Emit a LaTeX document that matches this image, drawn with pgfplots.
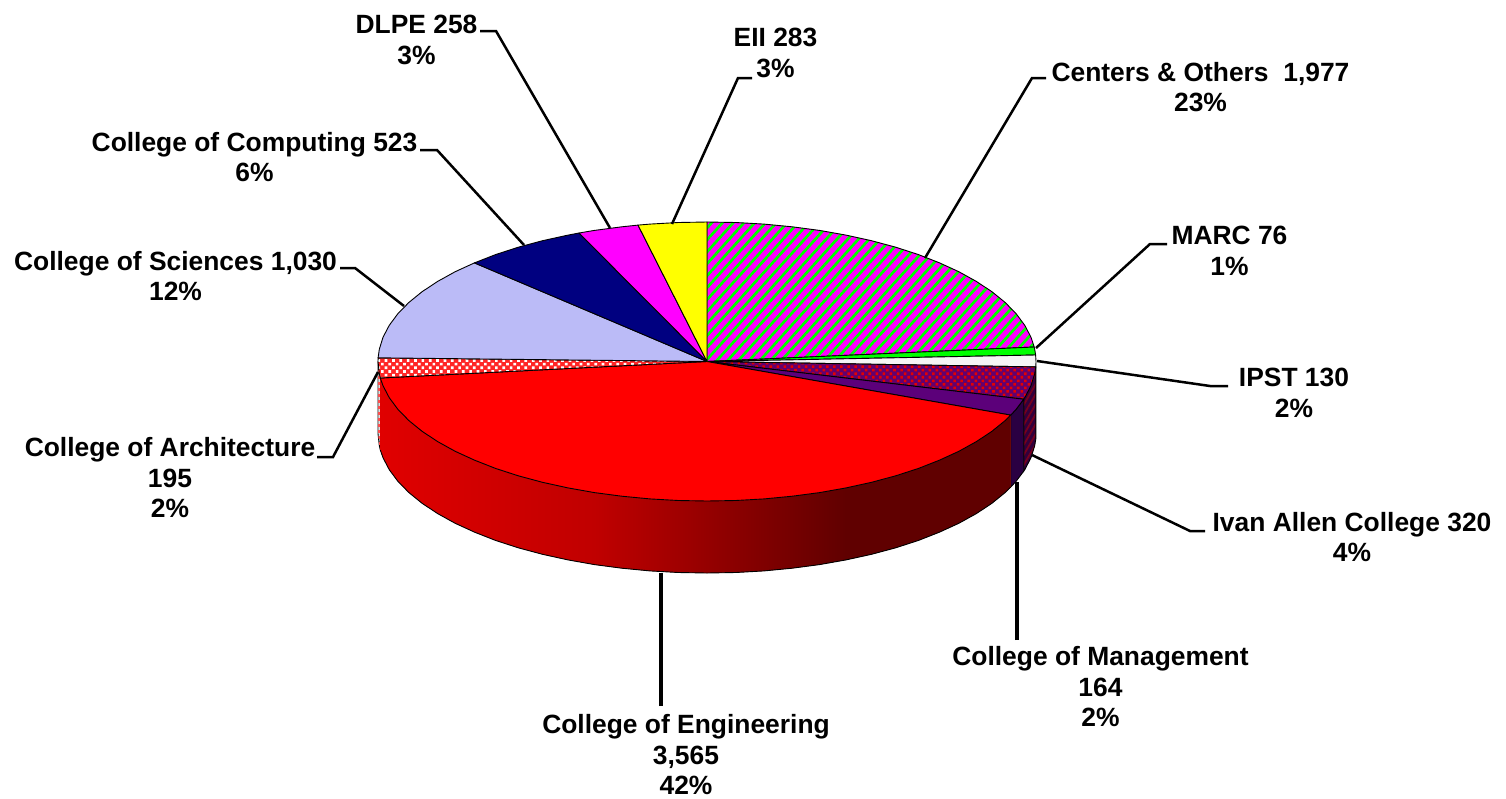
\documentclass[border=0pt]{standalone}
\usepackage{pgfplots}
\pgfplotsset{compat=1.18}
\usepackage{fontspec}
\setmainfont{Liberation Sans}
\usetikzlibrary{patterns.meta}
\definecolor{cMag}{RGB}{255,0,255}
\definecolor{cGrn}{RGB}{0,255,0}
\definecolor{cYel}{RGB}{255,255,0}
\definecolor{cRed}{RGB}{255,0,0}
\definecolor{cSci}{RGB}{187,187,247}
\definecolor{cNavy}{RGB}{0,0,128}
\definecolor{cMgmt}{RGB}{92,0,122}
\definecolor{cMgmtS}{RGB}{42,0,66}
\definecolor{cIvan}{RGB}{100,0,110}
\definecolor{cIvanS}{RGB}{50,0,60}
\definecolor{cIvanH}{RGB}{120,0,30}
\definecolor{sA}{RGB}{224,0,0}
\definecolor{sB}{RGB}{192,0,0}
\definecolor{sC}{RGB}{96,0,0}
\definecolor{sM}{RGB}{150,0,0}
\tikzset{lab/.style={font=\fontsize{26.4}{30.5}\selectfont\bfseries,align=center,inner sep=0pt,anchor=center,text=black},
ed/.style={draw=black,line width=0.9pt,line join=round},
ld/.style={draw=black,line width=2.5pt,line join=miter},
ldv/.style={draw=black,line width=3.2pt}}
\begin{document}
\begin{tikzpicture}
\path[use as bounding box] (0,0) rectangle (1506pt,798pt);
\begin{axis}[scale only axis,width=1506pt,height=798pt,xmin=0,xmax=1506,ymin=0,ymax=798,y dir=reverse,hide axis,clip=false,at={(0pt,0pt)},anchor=south west]
% side walls
\addplot[fill=cIvanS,draw=none] coordinates {(1035.8,366.9)(1034.7,373.7)(1031,385.7)(1024.8,397.6)(1023.7,399.2)(1023.7,471.2)(1024.8,469.6)(1031,457.7)(1034.7,445.7)(1035.8,438.9)} -- cycle;
\addplot[pattern={Lines[angle=60,distance=5pt,line width=1.8pt]},pattern color=cIvanH,draw=none] coordinates {(1035.8,366.9)(1034.7,373.7)(1031,385.7)(1024.8,397.6)(1023.7,399.2)(1023.7,471.2)(1024.8,469.6)(1031,457.7)(1034.7,445.7)(1035.8,438.9)} -- cycle;
\addplot[draw=black,line width=0.9pt] coordinates {(1035.8,366.9)(1035.8,438.9)(1034.7,445.7)(1031,457.7)(1024.8,469.6)(1023.7,471.2)(1023.7,399.2)};
\addplot[fill=cMgmtS,ed] coordinates {(1023.7,399.2)(1016.2,409.2)(1010.7,415.1)(1010.7,487.1)(1016.2,481.2)(1023.7,471.2)} -- cycle;
% College of Architecture side
\addplot[fill=white,ed] coordinates {(380.3,378)(379.3,373.7)(378,361.5)(378,433.5)(379.3,445.7)(380.3,450)} -- cycle;
\addplot[pattern={Lines[angle=0,distance=6pt,line width=3pt]},pattern color=cRed!70,draw=none] coordinates {(380.3,378)(379.3,373.7)(378,361.5)(378,433.5)(379.3,445.7)(380.3,450)} -- cycle;
% College of Engineering side
\addplot[fill=sM,draw=none] coordinates {(1010.7,415.1)(1005.2,420.5)(991.9,431.3)(976.5,441.5)(959,451.2)(939.6,460.1)(918.5,468.4)(895.7,475.8)(871.5,482.3)(846,487.9)(819.5,492.6)(792.2,496.2)(764.1,498.9)(735.7,500.5)(707,501)(678.3,500.5)(649.9,498.9)(621.8,496.2)(594.5,492.6)(568,487.9)(542.5,482.3)(518.3,475.8)(495.5,468.4)(474.4,460.1)(455,451.2)(437.5,441.5)(422.1,431.3)(408.8,420.5)(397.8,409.2)(389.2,397.6)(383,385.7)(380.3,378)(380.3,450)(383,457.7)(389.2,469.6)(397.8,481.2)(408.8,492.5)(422.1,503.3)(437.5,513.5)(455,523.2)(474.4,532.1)(495.5,540.4)(518.3,547.8)(542.5,554.3)(568,559.9)(594.5,564.6)(621.8,568.2)(649.9,570.9)(678.3,572.5)(707,573)(735.7,572.5)(764.1,570.9)(792.2,568.2)(819.5,564.6)(846,559.9)(871.5,554.3)(895.7,547.8)(918.5,540.4)(939.6,532.1)(959,523.2)(976.5,513.5)(991.9,503.3)(1005.2,492.5)(1010.7,487.1)} -- cycle;
\addplot[fill=sC,draw=none] coordinates {(1010.7,415.1)(1005.2,420.5)(991.9,431.3)(976.5,441.5)(959,451.2)(939.6,460.1)(918.5,468.4)(895.7,475.8)(871.5,482.3)(846,487.9)(846,559.9)(871.5,554.3)(895.7,547.8)(918.5,540.4)(939.6,532.1)(959,523.2)(976.5,513.5)(991.9,503.3)(1005.2,492.5)(1010.7,487.1)} -- cycle;
\addplot[left color=sB,right color=sC,draw=none] coordinates {(846,487.9)(819.5,492.6)(792.2,496.2)(764.1,498.9)(735.7,500.5)(707,501)(678.3,500.5)(649.9,498.9)(621.8,496.2)(594.5,492.6)(594.5,564.6)(621.8,568.2)(649.9,570.9)(678.3,572.5)(707,573)(735.7,572.5)(764.1,570.9)(792.2,568.2)(819.5,564.6)(846,559.9)} -- cycle;
\addplot[left color=sA,right color=sB,draw=none] coordinates {(594.5,492.6)(568,487.9)(542.5,482.3)(518.3,475.8)(495.5,468.4)(474.4,460.1)(455,451.2)(437.5,441.5)(422.1,431.3)(408.8,420.5)(397.8,409.2)(389.2,397.6)(383,385.7)(380.3,378)(380.3,450)(383,457.7)(389.2,469.6)(397.8,481.2)(408.8,492.5)(422.1,503.3)(437.5,513.5)(455,523.2)(474.4,532.1)(495.5,540.4)(518.3,547.8)(542.5,554.3)(568,559.9)(594.5,564.6)} -- cycle;
\addplot[draw=black,line width=0.9pt] coordinates {(380.3,450)(383,457.7)(389.2,469.6)(397.8,481.2)(408.8,492.5)(422.1,503.3)(437.5,513.5)(455,523.2)(474.4,532.1)(495.5,540.4)(518.3,547.8)(542.5,554.3)(568,559.9)(594.5,564.6)(621.8,568.2)(649.9,570.9)(678.3,572.5)(707,573)(735.7,572.5)(764.1,570.9)(792.2,568.2)(819.5,564.6)(846,559.9)(871.5,554.3)(895.7,547.8)(918.5,540.4)(939.6,532.1)(959,523.2)(976.5,513.5)(991.9,503.3)(1005.2,492.5)(1010.7,487.1)};
% top: Centers & Others 1977
\addplot[fill=cMag,draw=none] coordinates {(707,361.5)(707,222)(735.7,222.5)(764.1,224.1)(792.2,226.8)(819.5,230.4)(846,235.1)(871.5,240.7)(895.7,247.2)(918.5,254.6)(939.6,262.9)(959,271.8)(976.5,281.5)(991.9,291.7)(1005.2,302.5)(1016.2,313.8)(1024.8,325.4)(1031,337.3)(1034.2,347)} -- cycle;
\addplot[pattern={Lines[angle=48,distance=8pt,line width=2.7pt]},pattern color=cGrn,draw=none] coordinates {(707,361.5)(707,222)(735.7,222.5)(764.1,224.1)(792.2,226.8)(819.5,230.4)(846,235.1)(871.5,240.7)(895.7,247.2)(918.5,254.6)(939.6,262.9)(959,271.8)(976.5,281.5)(991.9,291.7)(1005.2,302.5)(1016.2,313.8)(1024.8,325.4)(1031,337.3)(1034.2,347)} -- cycle;
\addplot[ed] coordinates {(707,361.5)(707,222)(735.7,222.5)(764.1,224.1)(792.2,226.8)(819.5,230.4)(846,235.1)(871.5,240.7)(895.7,247.2)(918.5,254.6)(939.6,262.9)(959,271.8)(976.5,281.5)(991.9,291.7)(1005.2,302.5)(1016.2,313.8)(1024.8,325.4)(1031,337.3)(1034.2,347)} -- cycle;
% MARC 76
\addplot[fill=cGrn,ed] coordinates {(707,361.5)(1034.2,347)(1034.7,349.3)(1035.6,355)} -- cycle;
% IPST 130
\addplot[fill=white!96!black,ed] coordinates {(707,361.5)(1035.6,355)(1036,361.5)(1035.8,366.9)} -- cycle;
% Ivan Allen College 320
\addplot[fill=cIvan,draw=none] coordinates {(707,361.5)(1035.8,366.9)(1034.7,373.7)(1031,385.7)(1024.8,397.6)(1023.7,399.2)} -- cycle;
\addplot[pattern={Dots[distance=5pt,radius=1.8pt,angle=45]},pattern color=cRed!90!black,draw=none] coordinates {(707,361.5)(1035.8,366.9)(1034.7,373.7)(1031,385.7)(1024.8,397.6)(1023.7,399.2)} -- cycle;
\addplot[ed] coordinates {(707,361.5)(1035.8,366.9)(1034.7,373.7)(1031,385.7)(1024.8,397.6)(1023.7,399.2)} -- cycle;
% College of Management 164
\addplot[fill=cMgmt,ed] coordinates {(707,361.5)(1023.7,399.2)(1016.2,409.2)(1010.7,415.1)} -- cycle;
% College of Engineering 3565
\addplot[fill=cRed,ed] coordinates {(707,361.5)(1010.7,415.1)(1005.2,420.5)(991.9,431.3)(976.5,441.5)(959,451.2)(939.6,460.1)(918.5,468.4)(895.7,475.8)(871.5,482.3)(846,487.9)(819.5,492.6)(792.2,496.2)(764.1,498.9)(735.7,500.5)(707,501)(678.3,500.5)(649.9,498.9)(621.8,496.2)(594.5,492.6)(568,487.9)(542.5,482.3)(518.3,475.8)(495.5,468.4)(474.4,460.1)(455,451.2)(437.5,441.5)(422.1,431.3)(408.8,420.5)(397.8,409.2)(389.2,397.6)(383,385.7)(380.3,378)} -- cycle;
% College of Architecture 195
\addplot[fill=cRed!85,draw=none] coordinates {(707,361.5)(380.3,378)(379.3,373.7)(378,361.5)(378.1,357.8)} -- cycle;
\addplot[pattern={Dots[distance=5.2pt,radius=1.9pt,angle=45]},pattern color=white,draw=none] coordinates {(707,361.5)(380.3,378)(379.3,373.7)(378,361.5)(378.1,357.8)} -- cycle;
\addplot[ed] coordinates {(707,361.5)(380.3,378)(379.3,373.7)(378,361.5)(378.1,357.8)} -- cycle;
% College of Sciences 1030
\addplot[fill=cSci,ed] coordinates {(707,361.5)(378.1,357.8)(379.3,349.3)(383,337.3)(389.2,325.4)(397.8,313.8)(408.8,302.5)(422.1,291.7)(437.5,281.5)(455,271.8)(474.4,262.9)} -- cycle;
% College of Computing 523
\addplot[fill=cNavy,ed] coordinates {(707,361.5)(474.4,262.9)(495.5,254.6)(518.3,247.2)(542.5,240.7)(568,235.1)(579,233)} -- cycle;
% DLPE 258
\addplot[fill=cMag,ed] coordinates {(707,361.5)(579,233)(594.5,230.4)(621.8,226.8)(638,225.1)} -- cycle;
% EII 283
\addplot[fill=cYel,ed] coordinates {(707,361.5)(638,225.1)(649.9,224.1)(678.3,222.5)(707,222)} -- cycle;
% leader lines
\addplot[ld] coordinates {(480,31)(496,31)(610,228)};
\addplot[ld] coordinates {(752,78)(738,78)(672,224)};
\addplot[ld] coordinates {(1046,78)(1032,78)(925,258)};
\addplot[ld] coordinates {(1167,244)(1150,244)(1036,348)};
\addplot[ld] coordinates {(1228,386)(1210,386)(1037,361)};
\addplot[ld] coordinates {(1205,531)(1190,531)(1032,455)};
\addplot[ldv] coordinates {(1017,640)(1017,482)};
\addplot[ldv] coordinates {(661,706)(661,573)};
\addplot[ld] coordinates {(317,457)(333,457)(378,372)};
\addplot[ld] coordinates {(340,268)(355,268)(404,306)};
\addplot[ld] coordinates {(420,150)(437,150)(524,245)};
% labels
\node[lab] at (axis cs:416.5,40) {DLPE 258\\3\%};
\node[lab] at (axis cs:775.5,53) {EII 283\\3\%};
\node[lab] at (axis cs:1200.5,87) {Centers \& Others \ 1,977\\23\%};
\node[lab] at (axis cs:1229.5,251) {MARC 76\\1\%};
\node[lab] at (axis cs:1294,393) {IPST 130\\2\%};
\node[lab] at (axis cs:1352,537) {Ivan Allen College 320\\4\%};
\node[lab] at (axis cs:1100.5,687) {College of Management\\164\\2\%};
\node[lab] at (axis cs:686,755) {College of Engineering\\3,565\\42\%};
\node[lab] at (axis cs:170,478) {College of Architecture\\195\\2\%};
\node[lab] at (axis cs:175.5,276) {College of Sciences 1,030\\12\%};
\node[lab] at (axis cs:254.5,157) {College of Computing 523\\6\%};
\end{axis}
\end{tikzpicture}
\end{document}
